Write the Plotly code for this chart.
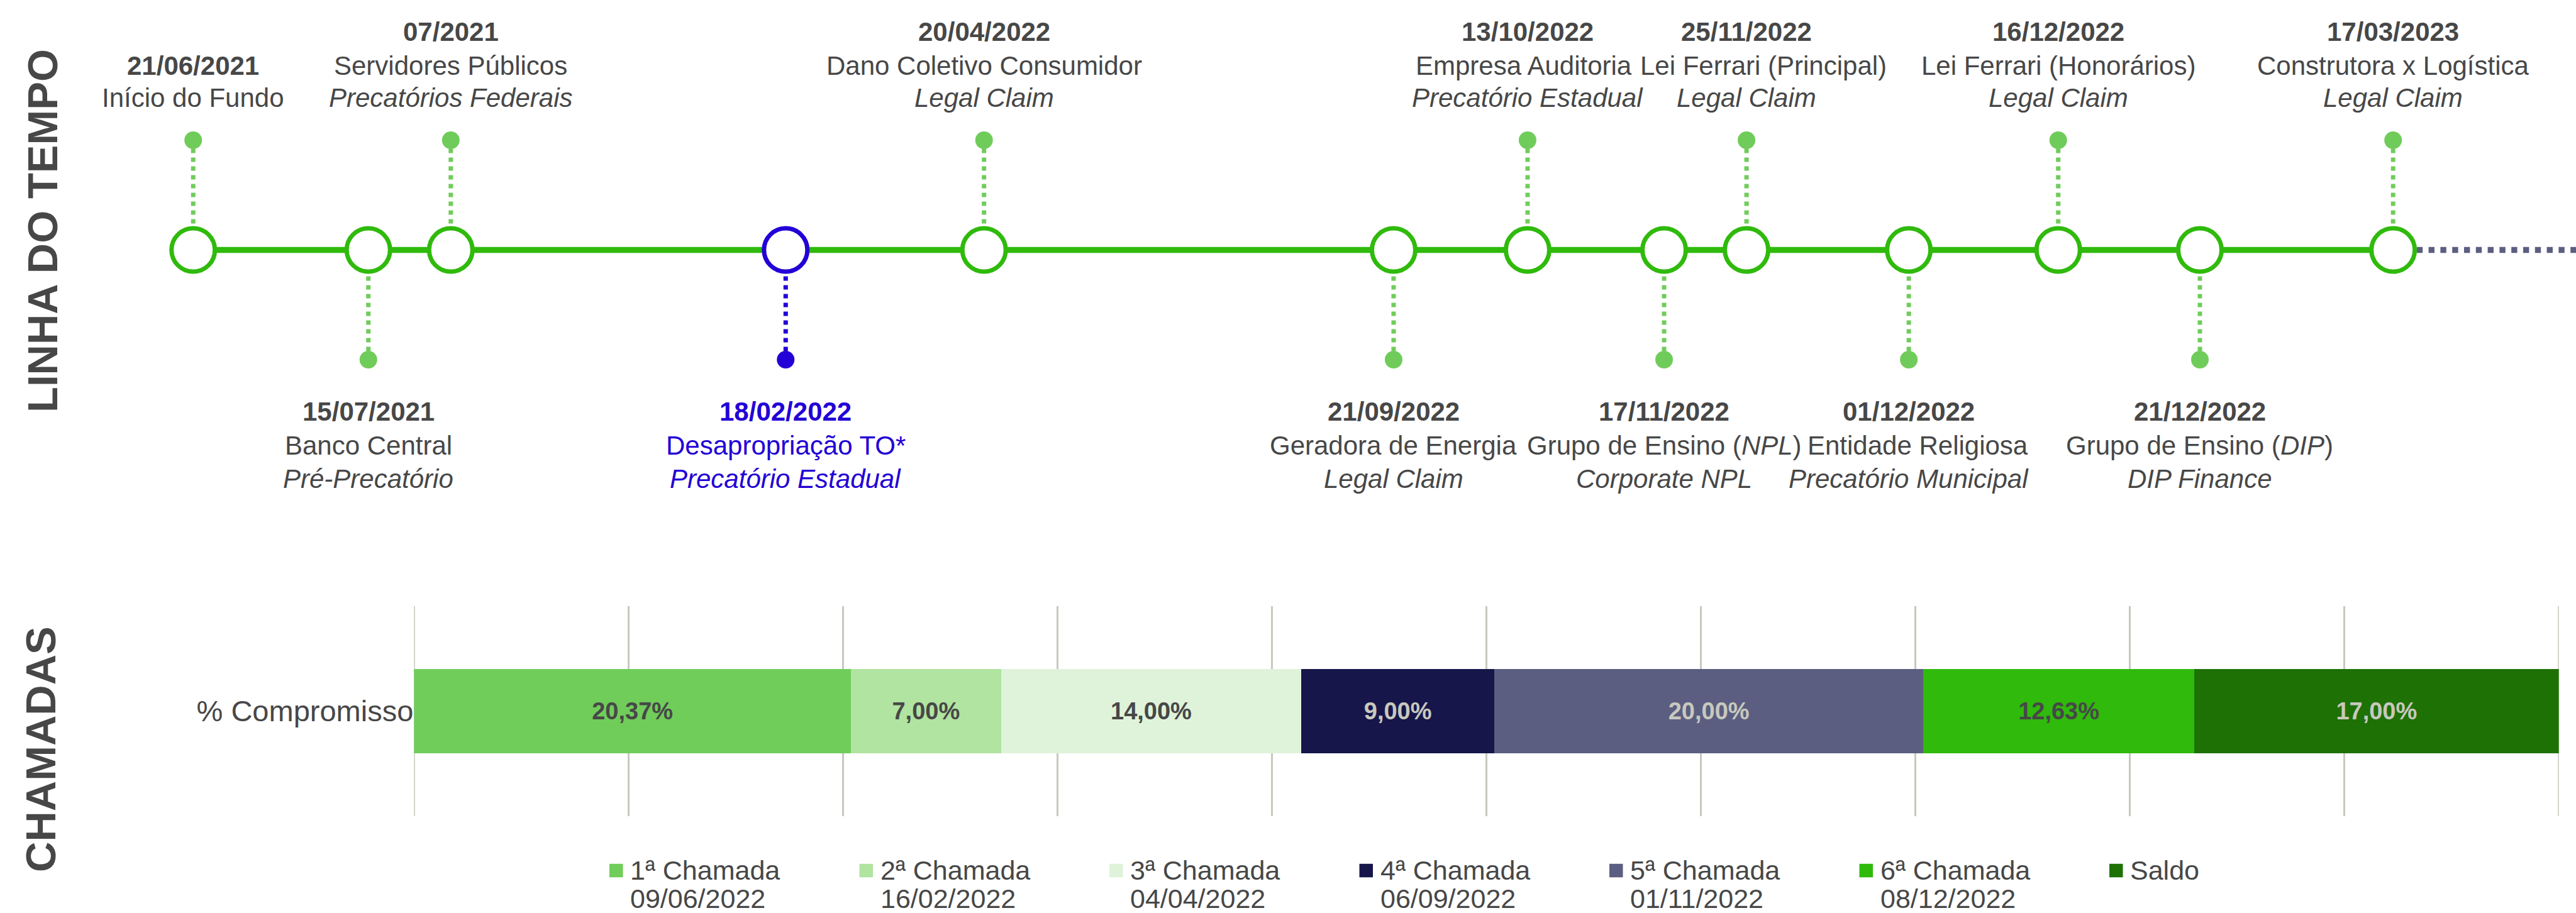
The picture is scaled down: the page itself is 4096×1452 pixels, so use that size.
import plotly.graph_objects as go

# ---------------- DATA ----------------
event_pos = [7.5, 14.3, 17.5, 30.5, 38.2, 54.1, 59.3, 64.6, 67.8, 74.1, 79.9, 85.4, 92.9]
event_side = [1, -1, 1, -1, 1, -1, 1, -1, 1, -1, 1, -1, 1]  # 1 = above, -1 = below
event_dates = ["21/06/2021", "15/07/2021", "07/2021", "18/02/2022", "20/04/2022",
               "21/09/2022", "13/10/2022", "17/11/2022", "25/11/2022", "01/12/2022",
               "16/12/2022", "21/12/2022", "17/03/2023"]
event_names = ["Início do Fundo", "Banco Central", "Servidores Públicos", "Desapropriação TO*",
               "Dano Coletivo Consumidor", "Geradora de Energia", "Empresa Auditoria",
               "Grupo de Ensino (<i>NPL</i>)", "Lei Ferrari (Principal)", "Entidade Religiosa",
               "Lei Ferrari (Honorários)", "Grupo de Ensino (<i>DIP</i>)", "Construtora x Logística"]
event_types = ["", "Pré-Precatório", "Precatórios Federais", "Precatório Estadual", "Legal Claim",
               "Legal Claim", "Precatório Estadual", "Corporate NPL", "Legal Claim",
               "Precatório Municipal", "Legal Claim", "DIP Finance", "Legal Claim"]
event_highlight = [False, False, False, True, False, False, False, False, False, False, False, False, False]

call_names = ["1ª Chamada", "2ª Chamada", "3ª Chamada", "4ª Chamada", "5ª Chamada", "6ª Chamada", "Saldo"]
call_dates = ["09/06/2022", "16/02/2022", "04/04/2022", "06/09/2022", "01/11/2022", "08/12/2022", ""]
call_pct = [20.37, 7.00, 14.00, 9.00, 20.00, 12.63, 17.00]
bar_category = "% Compromisso"
axis_edges = [0, 100]

# ---------------- STYLE ----------------
W, H = 4096, 1452
FONT = "Liberation Sans, Arial, Helvetica, sans-serif"
DARK = "#474747"
GREEN = "#2FBA0C"
LIGHT_GREEN = "#70CC5A"
BLUE = "#2200D6"
NAVY_GRAY = "#5B5E80"
GRID = "#C8C8BE"
call_colors = ["#70CD5A", "#B0E4A0", "#DFF3DA", "#16164A", "#5B5E80", "#2FBA0C", "#1E7105"]
call_text_colors = [DARK, DARK, DARK, "#C8C8BE", "#C8C8BE", DARK, "#C8C8BE"]

def py(px_from_top):
    return 1 - px_from_top / H

fig = go.Figure()

# ---------------- TIMELINE ----------------
n = len(event_pos)
# dotted continuation after the last event
fig.add_trace(go.Scatter(x=[event_pos[-1], 100], y=[0, 0], mode="lines",
                         line=dict(color=NAVY_GRAY, width=9.4, dash="dot"),
                         xaxis="x", yaxis="y", hoverinfo="skip"))
# main line
fig.add_trace(go.Scatter(x=event_pos, y=[0] * n, mode="lines",
                         line=dict(color=GREEN, width=9.4),
                         xaxis="x", yaxis="y", hoverinfo="skip"))
# stems
for hl, col in [(False, LIGHT_GREEN), (True, BLUE)]:
    xs, ys = [], []
    for p, s, h in zip(event_pos, event_side, event_highlight):
        if h == hl:
            xs += [p, p, None]
            ys += [0, s, None]
    fig.add_trace(go.Scatter(x=xs, y=ys, mode="lines",
                             line=dict(color=col, width=7, dash="dot"),
                             xaxis="x", yaxis="y", hoverinfo="skip"))
# end dots
fig.add_trace(go.Scatter(x=event_pos, y=event_side, mode="markers",
                         marker=dict(size=28, color=[BLUE if h else LIGHT_GREEN for h in event_highlight],
                                     line=dict(width=0)),
                         xaxis="x", yaxis="y", cliponaxis=False, hoverinfo="skip"))
# circles
fig.add_trace(go.Scatter(x=event_pos, y=[0] * n, mode="markers",
                         marker=dict(size=69, color="white",
                                     line=dict(width=7, color=[BLUE if h else GREEN for h in event_highlight])),
                         xaxis="x", yaxis="y", cliponaxis=False, hoverinfo="skip"))

TOP_LINES = [50.5, 104, 156]
BOTTOM_LINES = [654.6, 708.8, 761.6]
name_xshift = {6: -6, 8: 27, 9: 14}

annotations = []
for i in range(n):
    col = BLUE if event_highlight[i] else DARK
    lines = ["<b>%s</b>" % event_dates[i], event_names[i]]
    if event_types[i]:
        lines.append("<i>%s</i>" % event_types[i])
    if event_side[i] > 0:
        ys = TOP_LINES[-len(lines):]
    else:
        ys = BOTTOM_LINES[:len(lines)]
    for k, (txt, yy) in enumerate(zip(lines, ys)):
        annotations.append(dict(x=event_pos[i], xref="x", y=py(yy), yref="paper",
                                text=txt, showarrow=False, xanchor="center", yanchor="middle",
                                xshift=name_xshift.get(i, 0) if k == 1 else 0,
                                font=dict(family=FONT, size=42, color=col)))

# section titles
annotations.append(dict(x=68 / W, y=py(367), xref="paper", yref="paper", text="<b>LINHA DO TEMPO</b>",
                        textangle=-90, showarrow=False, xanchor="center", yanchor="middle",
                        font=dict(family=FONT, size=67, color=DARK)))
annotations.append(dict(x=64 / W, y=py(1192), xref="paper", yref="paper", text="<b>CHAMADAS</b>",
                        textangle=-90, showarrow=False, xanchor="center", yanchor="middle",
                        font=dict(family=FONT, size=67, color=DARK)))

# ---------------- BARS ----------------
for name, v, c, tc in zip(call_names, call_pct, call_colors, call_text_colors):
    fig.add_trace(go.Bar(y=[bar_category], x=[v], orientation="h", name=name,
                         marker=dict(color=c, line=dict(width=0)),
                         texttemplate="<b>%{x:.2f}%</b>", textposition="inside",
                         insidetextanchor="middle", textangle=0,
                         insidetextfont=dict(family=FONT, size=38, color=tc),
                         xaxis="x2", yaxis="y2", showlegend=False, hoverinfo="skip"))

shapes = []
# gridlines at the two edges of the bar axis (plotly omits them at the plot borders)
for xe in axis_edges:
    shapes.append(dict(type="line", xref="x2", yref="y2 domain", x0=xe, x1=xe, y0=0, y1=1,
                       line=dict(color=GRID, width=3), layer="below"))

# ---------------- CUSTOM LEGEND ----------------
leg_x0 = 969
leg_dx = 397.5
sq = 21.5
for i, (nm, dt, c) in enumerate(zip(call_names, call_dates, call_colors)):
    x0 = leg_x0 + i * leg_dx
    shapes.append(dict(type="rect", xref="paper", yref="paper",
                       x0=x0 / W, x1=(x0 + sq) / W, y0=py(1384.5 + sq / 2), y1=py(1384.5 - sq / 2),
                       fillcolor=c, line=dict(width=0)))
    annotations.append(dict(x=(x0 + 31) / W, y=py(1384), xref="paper", yref="paper", text=nm,
                            showarrow=False, xanchor="left", yanchor="middle",
                            font=dict(family=FONT, size=43, color=DARK)))
    if dt:
        annotations.append(dict(x=(x0 + 31) / W, y=py(1429), xref="paper", yref="paper", text=dt,
                                showarrow=False, xanchor="left", yanchor="middle",
                                font=dict(family=FONT, size=43, color=DARK)))

fig.update_layout(
    width=W, height=H,
    margin=dict(l=0, r=0, t=0, b=0, pad=0),
    paper_bgcolor="white", plot_bgcolor="white",
    showlegend=False, barmode="stack", bargap=0.6,
    separators=",.",
    font=dict(family=FONT, color=DARK),
    xaxis=dict(domain=[0, 1], range=[0, 100], visible=False, fixedrange=True),
    yaxis=dict(domain=[py(572), py(223)], range=[-1, 1], visible=False, fixedrange=True),
    xaxis2=dict(domain=[658.3 / W, 4068.7 / W], range=[0, 100], anchor="y2",
                showgrid=True, gridcolor=GRID, gridwidth=3, dtick=10, tick0=0,
                showticklabels=False, zeroline=False, ticks="", showline=False),
    yaxis2=dict(domain=[py(1298), py(963.7)], anchor="x2", showgrid=False, zeroline=False,
                ticks="", showline=False, tickfont=dict(family=FONT, size=47, color=DARK)),
    annotations=annotations,
    shapes=shapes,
)

fig.write_html("out.html", config={"displayModeBar": False},
               post_script="document.body.style.margin='0';document.body.style.overflow='hidden';")
